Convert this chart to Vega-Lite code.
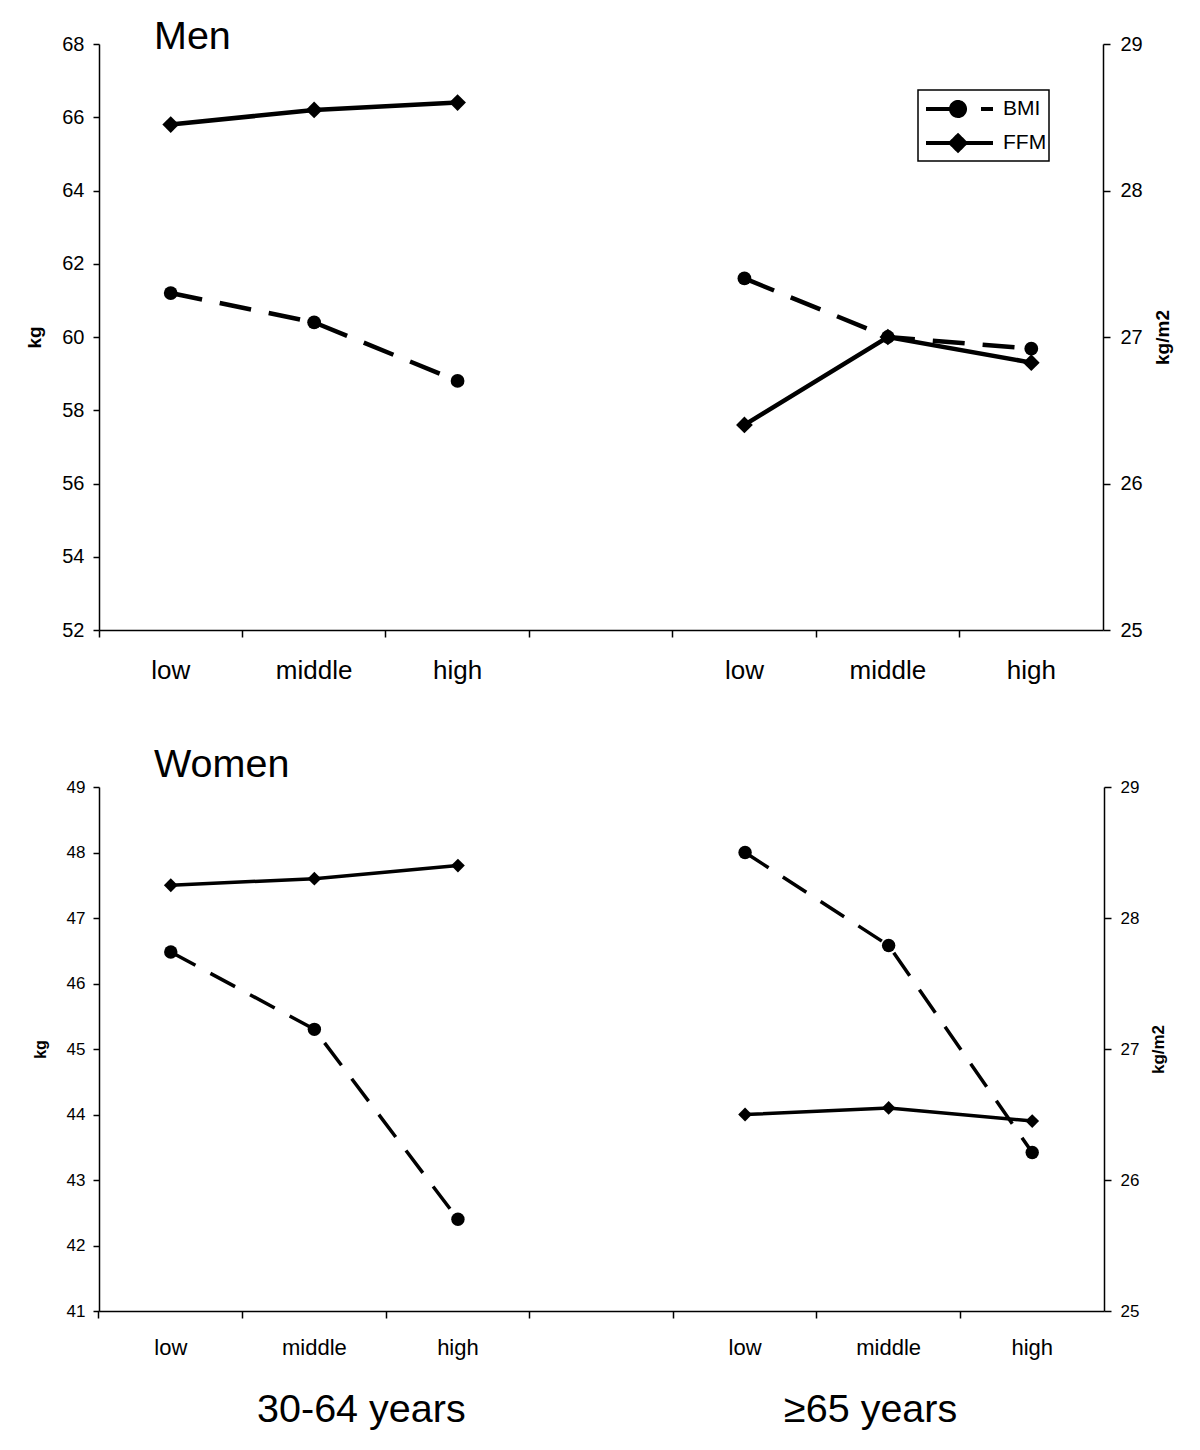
{
  "$schema": "https://vega.github.io/schema/vega-lite/v6.json",
  "background": "white",
  "padding": {"left": 25, "top": 16, "right": 5, "bottom": 5},
  "config": {
    "font": "Liberation Sans",
    "view": {"stroke": null},
    "axis": {"grid": false, "domainColor": "#000", "tickColor": "#000", "labelColor": "#000", "titleColor": "#000", "domainWidth": 1.5, "tickWidth": 1.5, "labelFont": "Liberation Sans", "titleFont": "Liberation Sans"},
    "title": {"color": "#000", "font": "Liberation Sans"}
  },
  "bounds": "flush",
  "spacing": 157,
  "resolve": {"scale": {"x": "independent", "y": "independent", "color": "independent"}, "legend": {"color": "independent"}},
  "datasets": {
    "men": [
      {"group": "30-64", "cat": "low1", "measure": "FFM", "value": 65.8},
      {"group": "30-64", "cat": "middle1", "measure": "FFM", "value": 66.2},
      {"group": "30-64", "cat": "high1", "measure": "FFM", "value": 66.4},
      {"group": "65+", "cat": "low2", "measure": "FFM", "value": 57.6},
      {"group": "65+", "cat": "middle2", "measure": "FFM", "value": 60.0},
      {"group": "65+", "cat": "high2", "measure": "FFM", "value": 59.3},
      {"group": "30-64", "cat": "low1", "measure": "BMI", "value": 27.3},
      {"group": "30-64", "cat": "middle1", "measure": "BMI", "value": 27.1},
      {"group": "30-64", "cat": "high1", "measure": "BMI", "value": 26.7},
      {"group": "65+", "cat": "low2", "measure": "BMI", "value": 27.4},
      {"group": "65+", "cat": "middle2", "measure": "BMI", "value": 27.0},
      {"group": "65+", "cat": "high2", "measure": "BMI", "value": 26.92}
    ],
    "women": [
      {"group": "30-64", "cat": "low1", "measure": "FFM", "value": 47.5},
      {"group": "30-64", "cat": "middle1", "measure": "FFM", "value": 47.6},
      {"group": "30-64", "cat": "high1", "measure": "FFM", "value": 47.8},
      {"group": "65+", "cat": "low2", "measure": "FFM", "value": 44.0},
      {"group": "65+", "cat": "middle2", "measure": "FFM", "value": 44.1},
      {"group": "65+", "cat": "high2", "measure": "FFM", "value": 43.9},
      {"group": "30-64", "cat": "low1", "measure": "BMI", "value": 27.74},
      {"group": "30-64", "cat": "middle1", "measure": "BMI", "value": 27.15},
      {"group": "30-64", "cat": "high1", "measure": "BMI", "value": 25.7},
      {"group": "65+", "cat": "low2", "measure": "BMI", "value": 28.5},
      {"group": "65+", "cat": "middle2", "measure": "BMI", "value": 27.79},
      {"group": "65+", "cat": "high2", "measure": "BMI", "value": 26.21}
    ]
  },
  "vconcat": [
    {
      "width": 1004,
      "height": 586,
      "title": {"text": "Men", "anchor": "start", "frame": "group", "fontSize": 39.5, "fontWeight": "normal", "dx": 55, "baseline": "alphabetic", "offset": -54},
      "data": {"name": "men"},
      "layer": [
        {
          "transform": [{"filter": "datum.measure === 'FFM'"}],
          "encoding": {
            "x": {"field": "cat", "type": "nominal", "sort": null,
              "scale": {"type": "band", "domain": ["low1", "middle1", "high1", "gap_", "low2", "middle2", "high2"], "paddingInner": 0, "paddingOuter": 0},
              "axis": {"title": null, "bandPosition": 0, "labelAngle": 0, "labelExpr": "datum.value === 'gap_' ? '' : slice(datum.value, 0, -1)", "labelFontSize": 26, "labelPadding": 20, "tickSize": 7}},
            "y": {"field": "value", "type": "quantitative",
              "scale": {"domain": [52, 68], "nice": false, "zero": false},
              "axis": {"title": "kg", "orient": "left", "values": [52, 54, 56, 58, 60, 62, 64, 66, 68], "labelFontSize": 20, "titleFontSize": 19, "titleFontWeight": "bold", "tickSize": 6, "labelPadding": 9, "titlePadding": 17}}
          },
          "layer": [
            {"mark": {"type": "line", "strokeWidth": 4.5},
              "encoding": {"detail": {"field": "group"},
                "color": {"field": "measure", "type": "nominal",
                  "scale": {"domain": ["BMI", "FFM"], "range": ["#000", "#000"]},
                  "legend": {"title": null, "orient": "none", "legendX": 819, "legendY": 46, "direction": "vertical", "strokeColor": "#000", "padding": 2, "rowPadding": 1, "symbolSize": 900, "symbolStrokeWidth": 4, "labelFontSize": 21, "labelColor": "#000", "labelOffset": 49, "labelFont": "Liberation Sans",
                    "encode": {
                      "legend": {"update": {"strokeWidth": {"value": 1.5}}},
                      "symbols": {"update": {
                        "shape": {"signal": "datum.value === 'BMI' ? 'M-0.733,0H1.4M2.933,0H3.733M0.933,0A0.467,0.467,0,1,1,1.867,0A0.467,0.467,0,1,1,0.933,0Z' : 'M-0.733,0H3.733M1.4,-0.5L1.9,0L1.4,0.5L0.9,0Z'"},
                        "fill": {"value": "#000"},
                        "stroke": {"value": "#000"},
                        "strokeWidth": {"value": 4},
                        "strokeDash": {"value": [1, 0]},
                        "opacity": {"value": 1}
                      }}
                    }}}}},
            {"mark": {"type": "point", "shape": "diamond", "filled": true, "size": 280, "color": "#000", "opacity": 1}}
          ]
        },
        {
          "transform": [{"filter": "datum.measure === 'BMI'"}],
          "encoding": {
            "x": {"field": "cat", "type": "nominal", "sort": null,
              "scale": {"type": "band", "domain": ["low1", "middle1", "high1", "gap_", "low2", "middle2", "high2"], "paddingInner": 0, "paddingOuter": 0}},
            "y": {"field": "value", "type": "quantitative",
              "scale": {"domain": [25, 29], "nice": false, "zero": false},
              "axis": {"title": "kg/m2", "orient": "right", "values": [25, 26, 27, 28, 29], "format": "d", "labelFontSize": 20, "titleFontSize": 19, "titleFontWeight": "bold", "titleAngle": 270, "titleBaseline": "top", "tickSize": 7, "labelPadding": 10, "titlePadding": 11}}
          },
          "layer": [
            {"mark": {"type": "line", "strokeWidth": 4.5, "strokeDash": [32, 18]},
              "encoding": {"detail": {"field": "group"},
                "color": {"field": "measure", "type": "nominal", "scale": {"domain": ["BMI", "FFM"], "range": ["#000", "#000"]}}}},
            {"mark": {"type": "point", "shape": "circle", "filled": true, "size": 190, "color": "#000", "opacity": 1}}
          ]
        }
      ],
      "resolve": {"scale": {"y": "independent"}}
    },
    {
      "width": 1005,
      "height": 524,
      "title": {"text": "Women", "anchor": "start", "frame": "group", "fontSize": 39.5, "fontWeight": "normal", "dx": 55, "baseline": "alphabetic", "offset": -38},
      "data": {"name": "women"},
      "layer": [
        {
          "transform": [{"filter": "datum.measure === 'FFM'"}],
          "encoding": {
            "x": {"field": "cat", "type": "nominal", "sort": null,
              "scale": {"type": "band", "domain": ["low1", "middle1", "high1", "gap_", "low2", "middle2", "high2"], "paddingInner": 0, "paddingOuter": 0},
              "axis": {"orient": "bottom", "title": null, "bandPosition": 0, "labelAngle": 0, "labelExpr": "datum.value === 'gap_' ? '' : slice(datum.value, 0, -1)", "labelFontSize": 22, "labelPadding": 19, "tickSize": 7}},
            "y": {"field": "value", "type": "quantitative",
              "scale": {"domain": [41, 49], "nice": false, "zero": false},
              "axis": {"title": "kg", "orient": "left", "values": [41, 42, 43, 44, 45, 46, 47, 48, 49], "labelFontSize": 17, "titleFontSize": 16, "titleFontWeight": "bold", "tickSize": 6, "labelPadding": 8, "titlePadding": 18}}
          },
          "layer": [
            {"mark": {"type": "line", "strokeWidth": 3.5, "color": "#000"}, "encoding": {"detail": {"field": "group"}}},
            {"mark": {"type": "point", "shape": "diamond", "filled": true, "size": 190, "color": "#000", "opacity": 1}}
          ]
        },
        {
          "transform": [{"filter": "datum.measure === 'BMI'"}],
          "encoding": {
            "x": {"field": "cat", "type": "nominal", "sort": null,
              "scale": {"type": "band", "domain": ["low1", "middle1", "high1", "gap_", "low2", "middle2", "high2"], "paddingInner": 0, "paddingOuter": 0},
              "axis": {"orient": "bottom", "title": null, "domain": false, "ticks": false, "tickSize": 0, "labelAngle": 0, "labelPadding": 79, "labelFontSize": 39.5, "labelLimit": 0, "labelOverlap": false, "labelFlush": false,
                "labelExpr": "datum.value === 'middle1' ? '30-64 years' : (datum.value === 'middle2' ? '≥65 years' : '')",
                "labelOffset": {"condition": {"test": "datum.value === 'middle1'", "value": 47}, "value": -18}}},
            "y": {"field": "value", "type": "quantitative",
              "scale": {"domain": [25, 29], "nice": false, "zero": false},
              "axis": {"title": "kg/m2", "orient": "right", "values": [25, 26, 27, 28, 29], "format": "d", "labelFontSize": 17, "titleFontSize": 17, "titleFontWeight": "bold", "titleAngle": 270, "titleBaseline": "top", "tickSize": 7, "labelPadding": 9, "titlePadding": 12}}
          },
          "layer": [
            {"mark": {"type": "line", "strokeWidth": 3.5, "color": "#000", "strokeDash": [28, 17]}, "encoding": {"detail": {"field": "group"}}},
            {"mark": {"type": "point", "shape": "circle", "filled": true, "size": 180, "color": "#000", "opacity": 1}}
          ]
        }
      ],
      "resolve": {"scale": {"y": "independent"}, "axis": {"x": "independent"}}
    }
  ]
}
